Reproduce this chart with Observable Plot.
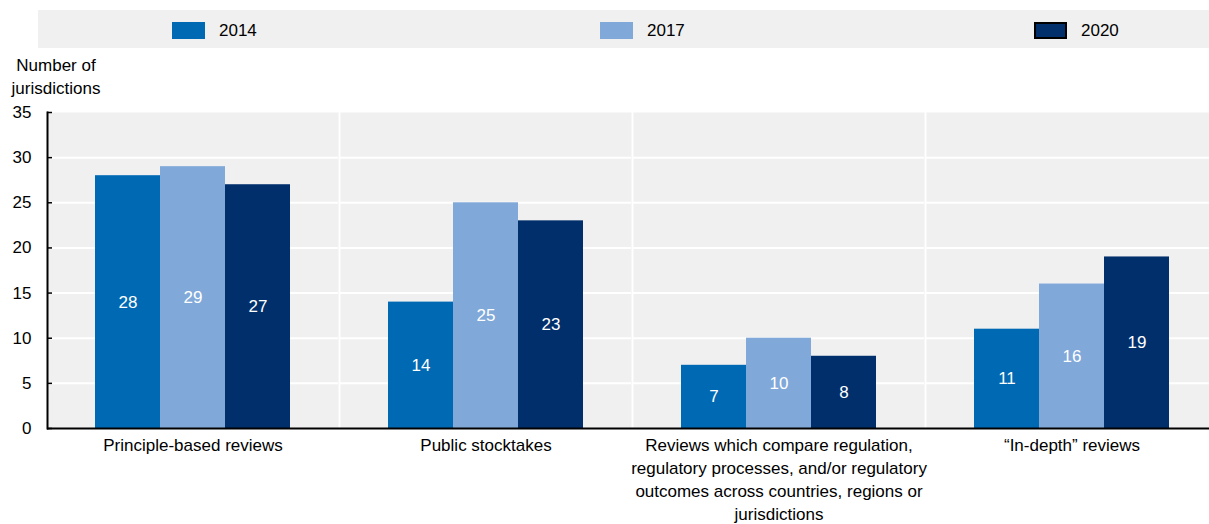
<!DOCTYPE html>
<html><head><meta charset="utf-8">
<script src="https://cdn.jsdelivr.net/npm/d3@7"></script>
<script src="https://cdn.jsdelivr.net/npm/@observablehq/plot@0.6"></script>
<style>
body{margin:0;overflow:hidden;background:#fff;font-family:"Liberation Sans Narrow","Arial Narrow","Liberation Sans",Arial,sans-serif;color:#000;}
#wrap{position:relative;width:1209px;height:524px;overflow:hidden;}
#legend{position:absolute;left:38px;top:10px;width:1171px;height:38px;background:#f0f0f0;}
.item{position:absolute;top:12px;height:17px;display:flex;align-items:center;font-size:17px;}
.sw{width:33px;height:17px;margin-right:14px;box-sizing:border-box}
#ylabel{position:absolute;left:8px;top:54px;width:96px;text-align:center;font-size:17px;line-height:23px}
#chart{position:absolute;left:0;top:0;width:1218px}
#chart svg{max-width:none !important}
</style></head>
<body>
<div id="wrap">
  <div id="chart"></div>
  <div id="legend"></div>
  <div id="ylabel">Number of<br>jurisdictions</div>
</div>
<script>
const categories = ["Principle-based reviews", "Public stocktakes", "Reviews which compare regulation, regulatory processes, and/or regulatory outcomes across countries, regions or jurisdictions", "\u201cIn-depth\u201d reviews"];
const categoryLabels = ["Principle-based reviews", "Public stocktakes", "Reviews which compare regulation,\nregulatory processes, and/or regulatory\noutcomes across countries, regions or\njurisdictions", "\u201cIn-depth\u201d reviews"];
const years = ["2014", "2017", "2020"];
const values2014 = [28, 14, 7, 11];
const values2017 = [29, 25, 10, 16];
const values2020 = [27, 23, 8, 19];
const colors = ["#0069b4", "#80a8d9", "#002f6c"];
const yTicks = [0, 5, 10, 15, 20, 25, 30, 35];
const gridTicks = [5, 10, 15, 20, 25, 30];

const series = [values2014, values2017, values2020];
const data = [];
categories.forEach((c, i) => years.forEach((y, j) => data.push({category: c, year: y, value: series[j][i]})));

// legend
const legendPos = [134, 562, 996];
const legend = document.getElementById("legend");
years.forEach((y, j) => {
  const it = document.createElement("div");
  it.className = "item";
  it.style.left = legendPos[j] + "px";
  const sw = document.createElement("div");
  sw.className = "sw";
  sw.style.background = colors[j];
  if (j === 2) sw.style.border = "2px solid #000";
  it.appendChild(sw);
  const t = document.createElement("span");
  t.textContent = y;
  it.appendChild(t);
  legend.appendChild(it);
});

const chart = Plot.plot({
  width: 1218, height: 524,
  marginTop: 112, marginBottom: 96, marginLeft: 46, marginRight: 0,
  style: {fontFamily: '"Liberation Sans Narrow","Arial Narrow","Liberation Sans",Arial,sans-serif', fontSize: "17px", color: "black", background: "transparent", overflow: "visible", maxWidth: "none"},
  fx: {domain: categories, paddingInner: 0.007, paddingOuter: 0, label: null},
  x: {domain: years, paddingInner: 0, paddingOuter: 0.72, axis: null},
  y: {domain: [0, 35], label: null},
  color: {domain: years, range: colors},
  marks: [
    Plot.frame({fill: "#f0f0f0", stroke: "none"}),
    Plot.gridY(gridTicks, {stroke: "white", strokeOpacity: 1, strokeWidth: 2}),
    Plot.barY(data, {fx: "category", x: "year", y: "value", fill: "year"}),
    Plot.text(data, {fx: "category", x: "year", y: d => d.value / 2, text: d => String(d.value), fill: "white", fontSize: 17}),
    Plot.ruleY([0], {stroke: "black", strokeWidth: 2, insetRight: -2}),
    Plot.axisY(yTicks, {tickSize: 0, tickPadding: 16, fontSize: 17, label: null}),
    Plot.axisY(yTicks, {tickSize: -5, text: null, label: null, strokeWidth: 1.5}),
    Plot.axisFx({anchor: "bottom", tickSize: 0, tickPadding: 6, fontSize: 17, lineHeight: 1.36, tickFormat: d => categoryLabels[categories.indexOf(d)], label: null}),
    Plot.frame({anchor: "left", stroke: "black", strokeWidth: 2, facetAnchor: "left"})
  ]
});
document.getElementById("chart").appendChild(chart);
</script>
</body></html>
